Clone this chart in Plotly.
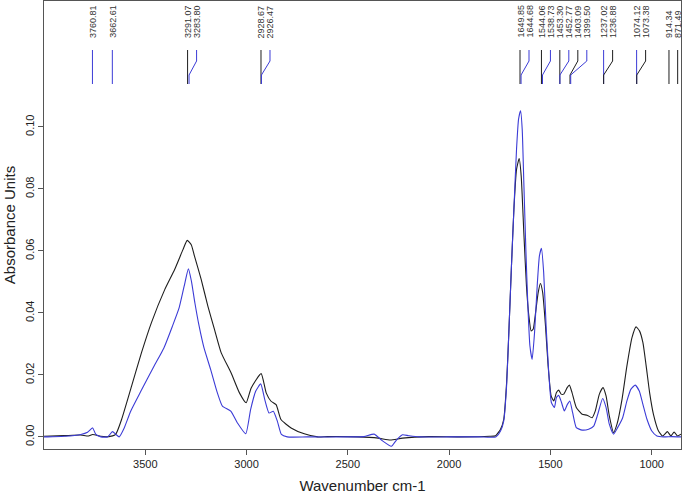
import plotly.graph_objects as go

# ---------------- data ----------------
WN_BLACK = [4000, 3900, 3820, 3780, 3760, 3720, 3680, 3650, 3642, 3617, 3568, 3519, 3470, 3404, 3355,
            3314, 3293, 3273, 3257, 3224, 3191, 3158, 3125, 3076, 3035, 3002, 2977, 2928, 2903, 2879,
            2854, 2830, 2780, 2715, 2649, 2600, 2450, 2350, 2290, 2230, 2100, 1950, 1800, 1770,
            1746, 1730, 1716, 1705, 1692, 1680, 1667, 1654, 1644, 1631, 1618, 1606, 1595, 1585, 1573,
            1560, 1549, 1538, 1524, 1511, 1496, 1483, 1470, 1459, 1447, 1434, 1417, 1406, 1393, 1372,
            1343, 1319, 1294, 1278, 1258, 1240, 1225, 1209, 1188, 1171, 1146, 1122, 1097, 1077, 1060,
            1043, 1027, 1010, 991, 966, 946, 922, 905, 889, 872, 855]
ABS_BLACK = [0.0002, 0.0004, 0.0006, 0.0003, 0.0008, 0.0002, 0.0001, 0.0006, 0.0013, 0.0056, 0.0163,
             0.0271, 0.0368, 0.0475, 0.0540, 0.0604, 0.0634, 0.0620, 0.0583, 0.0508, 0.0422, 0.0346,
             0.0271, 0.0206, 0.0142, 0.0110, 0.0158, 0.0204, 0.0142, 0.0115, 0.0104, 0.0056, 0.0029,
             0.0010, 0.0000, 0.0001, 0.0000, -0.0004, -0.0010, -0.0004, 0.0001, 0.0000, 0.0002, 0.0004,
             0.0025, 0.0057, 0.0175, 0.0337, 0.0552, 0.0734, 0.0863, 0.0898, 0.0842, 0.0659, 0.0487,
             0.0390, 0.0342, 0.0347, 0.0401, 0.0466, 0.0495, 0.0466, 0.0358, 0.0229, 0.0132, 0.0116,
             0.0143, 0.0151, 0.0138, 0.0138, 0.0159, 0.0167, 0.0143, 0.0095, 0.0073, 0.0070, 0.0062,
             0.0084, 0.0138, 0.0159, 0.0132, 0.0068, 0.0014, 0.0041, 0.0122, 0.0229, 0.0320, 0.0355,
             0.0342, 0.0304, 0.0229, 0.0143, 0.0073, 0.0019, 0.0003, 0.0017, 0.0003, 0.0016, 0.0003,
             0.0009]

WN_BLUE = [4000, 3982, 3900, 3818, 3785, 3760, 3744, 3719, 3686, 3662, 3645, 3629, 3604, 3572, 3522,
           3457, 3408, 3366, 3333, 3308, 3287, 3272, 3255, 3234, 3210, 3177, 3144, 3119, 3078, 3045,
           3004, 2980, 2955, 2930, 2910, 2889, 2868, 2848, 2828, 2799, 2700, 2500, 2420, 2370, 2330,
           2285, 2260, 2230, 2200, 2150, 2000, 1850, 1770, 1746, 1730, 1716, 1705, 1692, 1680, 1667,
           1657, 1647, 1639, 1631, 1621, 1611, 1601, 1590, 1578, 1565, 1554, 1544, 1533, 1521, 1508,
           1495, 1480, 1470, 1459, 1445, 1431, 1416, 1404, 1390, 1372, 1343, 1311, 1286, 1266, 1242,
           1225, 1209, 1188, 1168, 1143, 1122, 1102, 1081, 1061, 1043, 1023, 999, 974, 941, 900, 855]
ABS_BLUE = [0.0000, 0.0000, 0.0002, 0.0008, 0.0015, 0.0029, 0.0008, 0.0000, 0.0000, 0.0017, 0.0008,
            0.0000, 0.0029, 0.0083, 0.0147, 0.0228, 0.0287, 0.0357, 0.0416, 0.0486, 0.0542, 0.0502,
            0.0432, 0.0357, 0.0287, 0.0217, 0.0142, 0.0099, 0.0083, 0.0045, 0.0010, 0.0088, 0.0147,
            0.0171, 0.0120, 0.0077, 0.0083, 0.0051, 0.0008, 0.0000, 0.0000, 0.0000, 0.0001, 0.0009,
            -0.0012, -0.0030, -0.0010, 0.0007, 0.0004, 0.0000, 0.0000, 0.0000, 0.0000, 0.0019, 0.0052,
            0.0165, 0.0337, 0.0552, 0.0734, 0.0928, 0.1025, 0.1052, 0.0992, 0.0820, 0.0605, 0.0423,
            0.0294, 0.0250, 0.0337, 0.0487, 0.0584, 0.0608, 0.0530, 0.0358, 0.0208, 0.0111, 0.0095,
            0.0127, 0.0134, 0.0111, 0.0084, 0.0105, 0.0116, 0.0078, 0.0030, 0.0022, 0.0025, 0.0035,
            0.0073, 0.0124, 0.0095, 0.0041, 0.0009, 0.0030, 0.0062, 0.0116, 0.0154, 0.0167, 0.0148,
            0.0105, 0.0057, 0.0019, 0.0003, 0.0000, 0.0001, 0.0000]

PEAK_LABELS = ["3760.81", "3662.61", "3291.07", "3283.80", "2928.67", "2926.47",
               "1649.85", "1644.68", "1544.06", "1538.73", "1453.30", "1452.77",
               "1403.09", "1399.50", "1237.02", "1236.88", "1074.12", "1073.38",
               "914.34", "871.49"]
PEAK_SERIES = ["blue", "blue", "black", "blue", "black", "blue",
               "black", "blue", "black", "blue", "black", "blue",
               "black", "blue", "blue", "black", "blue", "black",
               "black", "black"]

X_TICKS = [3500, 3000, 2500, 2000, 1500, 1000]
Y_TICKS = [0.00, 0.02, 0.04, 0.06, 0.08, 0.10]
Y_TICK_TEXT = ["0.00", "0.02", "0.04", "0.06", "0.08", "0.10"]

# ---------------- styling / layout ----------------
W, H = 685, 498
ML, MR, MT, MB = 44, 4, 1, 49
X_RANGE = [4000, 855]
Y_RANGE = [-0.0039, 0.1406]
COLORS = {"black": "#1e1e1e", "blue": "#3b3bd6"}
FONT = "Liberation Sans, Arial, sans-serif"

fig = go.Figure()
fig.add_trace(go.Scatter(x=WN_BLACK, y=ABS_BLACK, mode="lines",
                         line=dict(color=COLORS["black"], width=1.1, shape="spline", smoothing=0.5),
                         showlegend=False, hoverinfo="skip"))
fig.add_trace(go.Scatter(x=WN_BLUE, y=ABS_BLUE, mode="lines",
                         line=dict(color=COLORS["blue"], width=1.1, shape="spline", smoothing=0.5),
                         showlegend=False, hoverinfo="skip"))

# peak labels with leader lines, spread so they don't overlap
plot_w = W - ML - MR
px_per_unit = plot_w / (X_RANGE[0] - X_RANGE[1])
MIN_GAP = 9.0
prev = -1e9
for lab, ser in zip(PEAK_LABELS, PEAK_SERIES):
    wn = float(lab)
    actual = (X_RANGE[0] - wn) * px_per_unit
    pos = max(actual, prev + MIN_GAP)
    prev = pos
    d = pos - actual
    col = COLORS[ser]
    fig.add_annotation(x=wn, xref="x", xshift=d, y=1, yref="paper", yshift=-39,
                       yanchor="bottom", xanchor="center", text=lab, textangle=-90,
                       showarrow=False, font=dict(family=FONT, size=9, color="#333333"))
    if d < 0.6:
        path = "M 0,-49 L 0,-83"
    else:
        path = f"M {d:.2f},-49 L {d:.2f},-60 L 0,-74 L 0,-83"
    fig.add_shape(type="path", path=path, xref="x", xsizemode="pixel", xanchor=wn,
                  yref="paper", ysizemode="pixel", yanchor=1,
                  line=dict(color=col, width=1))

fig.update_layout(
    width=W, height=H,
    margin=dict(l=ML, r=MR, t=MT, b=MB, pad=0, autoexpand=False),
    paper_bgcolor="white", plot_bgcolor="white",
    font=dict(family=FONT, color="#222222"),
    xaxis=dict(range=X_RANGE, tickvals=X_TICKS, showgrid=False, zeroline=False, automargin=False,
               showline=True, mirror=True, linecolor="#555555", linewidth=1,
               ticks="outside", ticklen=5, tickcolor="#555555",
               tickfont=dict(size=11, color="#222222"),
               title=dict(text="Wavenumber cm-1", font=dict(size=15, color="#222222"), standoff=11)),
    yaxis=dict(range=Y_RANGE, tickvals=Y_TICKS, ticktext=Y_TICK_TEXT, tickangle=-90, automargin=False,
               showgrid=False, zeroline=False,
               showline=True, mirror=True, linecolor="#555555", linewidth=1,
               ticks="outside", ticklen=5, tickcolor="#555555",
               tickfont=dict(size=11, color="#222222"),
               title=dict(text="Absorbance Units", font=dict(size=15, color="#222222"), standoff=4)),
)

fig.write_html("out.html", config={"displayModeBar": False},
               post_script="document.body.style.margin='0px';")
